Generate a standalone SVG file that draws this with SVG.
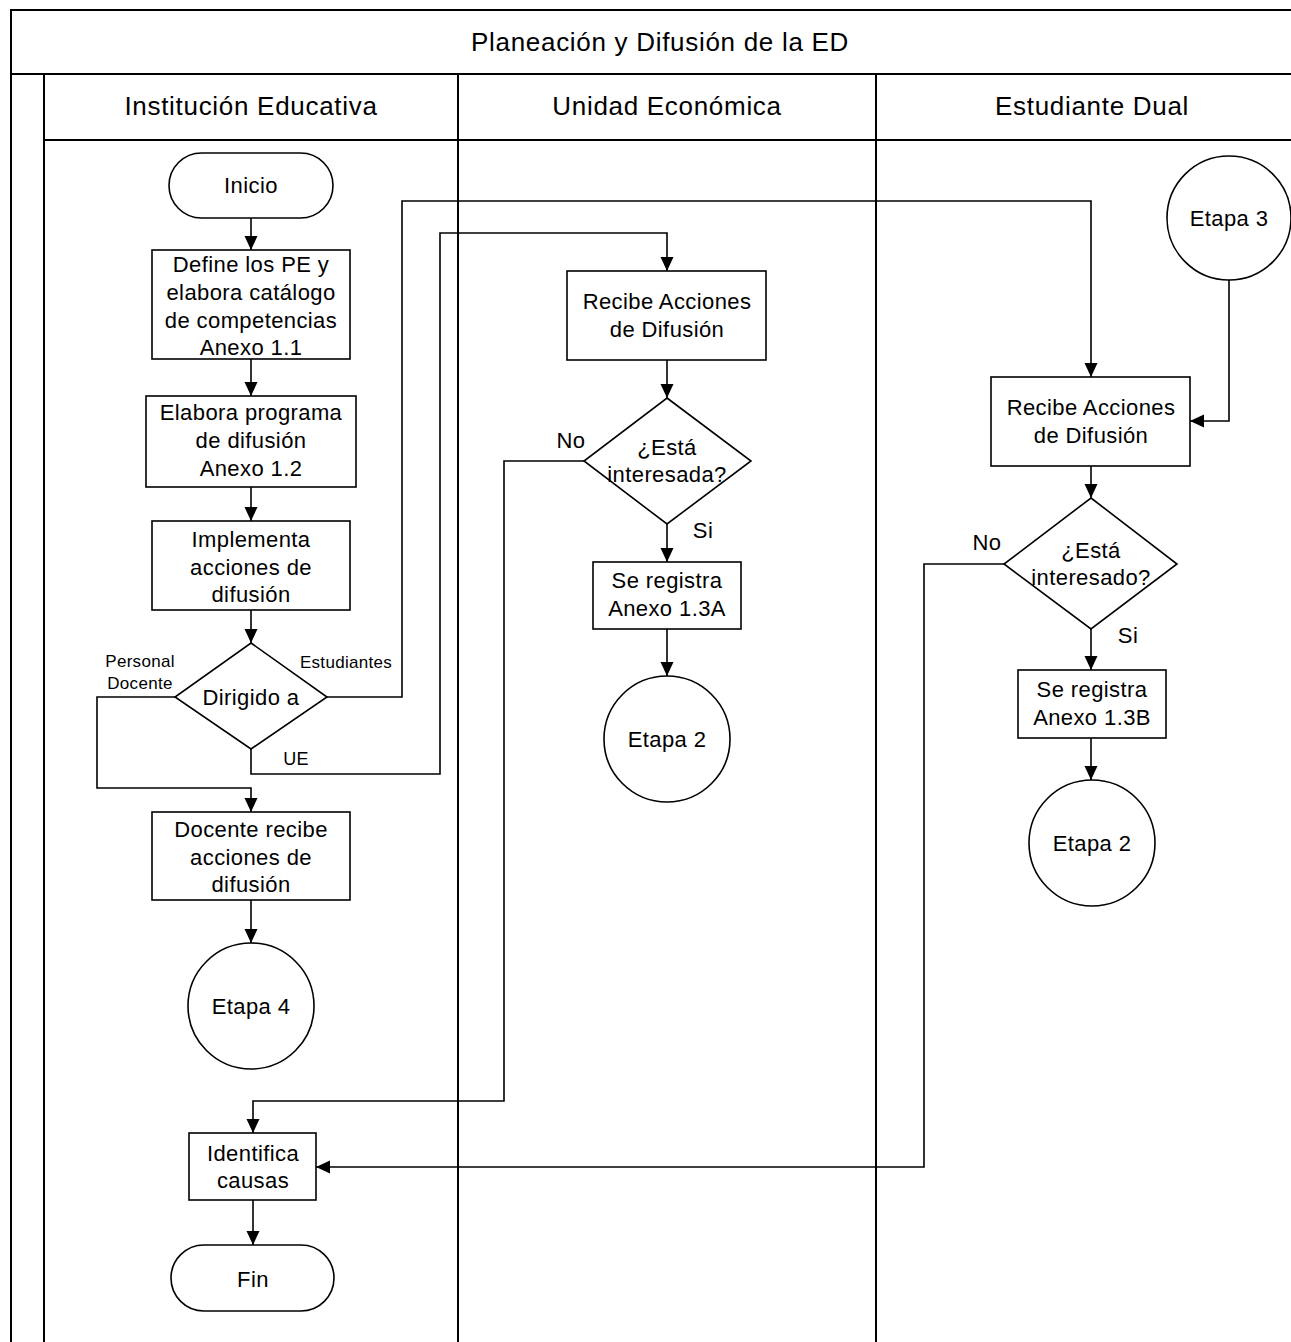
<svg xmlns="http://www.w3.org/2000/svg" width="1291" height="1342" viewBox="0 0 1291 1342">
<style>
text{font-family:"Liberation Sans",Arial,sans-serif;fill:#000;text-anchor:middle}
.t{font-size:26px;letter-spacing:0.7px}
.n{font-size:22px;letter-spacing:0.4px}
.s{font-size:17px;letter-spacing:0.3px}
.lane{fill:none;stroke:#000;stroke-width:2}
.sh{fill:#fff;stroke:#000;stroke-width:1.6}
.c{fill:none;stroke:#000;stroke-width:1.6}
</style>
<defs>
<marker id="a" markerUnits="userSpaceOnUse" markerWidth="14" markerHeight="14" viewBox="0 0 14 14" refX="14" refY="7" orient="auto">
<path d="M0,0.5 L14,7 L0,13.5 Z" fill="#000"/>
</marker>
</defs>
<rect width="1291" height="1342" fill="#fff"/>
<g id="pool">
<path class="lane" d="M11,1342 V10 H1300 M11,74 H1300 M44,140 H1300 M44,74 V1342 M458,74 V1342 M876,74 V1342"/>
<text class="t" x="660" y="51">Planeación y Difusión de la ED</text>
<text class="t" x="251" y="115">Institución Educativa</text>
<text class="t" x="667" y="115">Unidad Económica</text>
<text class="t" x="1092" y="115">Estudiante Dual</text>
</g>
<g id="connectors">
<path class="c" d="M251,218 V250" marker-end="url(#a)"/>
<path class="c" d="M251,359 V396" marker-end="url(#a)"/>
<path class="c" d="M251,487 V521" marker-end="url(#a)"/>
<path class="c" d="M251,610 V643" marker-end="url(#a)"/>
<path class="c" d="M175,697 H97 V788 H251 V812" marker-end="url(#a)"/>
<path class="c" d="M327,697 H402 V201 H1091 V377" marker-end="url(#a)"/>
<path class="c" d="M251,749 V774 H440 V233 H667 V271" marker-end="url(#a)"/>
<path class="c" d="M251,900 V943" marker-end="url(#a)"/>
<path class="c" d="M667,360 V398" marker-end="url(#a)"/>
<path class="c" d="M667,524 V562" marker-end="url(#a)"/>
<path class="c" d="M667,629 V676" marker-end="url(#a)"/>
<path class="c" d="M584,461 H504 V1101 H253 V1133" marker-end="url(#a)"/>
<path class="c" d="M1229,280 V421 H1190" marker-end="url(#a)"/>
<path class="c" d="M1091,466 V498" marker-end="url(#a)"/>
<path class="c" d="M1091,629 V670" marker-end="url(#a)"/>
<path class="c" d="M1091,738 V780" marker-end="url(#a)"/>
<path class="c" d="M1004,564 H924 V1167 H316" marker-end="url(#a)"/>
<path class="c" d="M253,1200 V1245" marker-end="url(#a)"/>
<text class="s" x="140" y="667">Personal</text>
<text class="s" x="140" y="689">Docente</text>
<text class="s" x="346" y="668">Estudiantes</text>
<text class="s" x="296" y="765" style="font-size:18px">UE</text>
<text class="n" x="571" y="448">No</text>
<text class="n" x="703" y="538">Si</text>
<text class="n" x="987" y="550">No</text>
<text class="n" x="1128" y="643">Si</text>
</g>
<g id="inicio">
<rect class="sh" x="169" y="153" width="164" height="65" rx="32.5"/>
<text class="n" x="251" y="193">Inicio</text>
</g>
<g id="define">
<rect class="sh" x="152" y="250" width="198" height="109"/>
<text class="n" x="251" y="272">Define los PE y</text>
<text class="n" x="251" y="300">elabora catálogo</text>
<text class="n" x="251" y="328">de competencias</text>
<text class="n" x="251" y="355">Anexo 1.1</text>
</g>
<g id="elabora">
<rect class="sh" x="146" y="396" width="210" height="91"/>
<text class="n" x="251" y="420">Elabora programa</text>
<text class="n" x="251" y="448">de difusión</text>
<text class="n" x="251" y="476">Anexo 1.2</text>
</g>
<g id="implementa">
<rect class="sh" x="152" y="521" width="198" height="89"/>
<text class="n" x="251" y="547">Implementa</text>
<text class="n" x="251" y="575">acciones de</text>
<text class="n" x="251" y="602">difusión</text>
</g>
<g id="dirigido">
<path class="sh" d="M251,643 L327,697 L251,749 L175,697 Z"/>
<text class="n" x="251" y="705">Dirigido a</text>
</g>
<g id="docente">
<rect class="sh" x="152" y="812" width="198" height="88"/>
<text class="n" x="251" y="837">Docente recibe</text>
<text class="n" x="251" y="865">acciones de</text>
<text class="n" x="251" y="892">difusión</text>
</g>
<g id="etapa4">
<circle class="sh" cx="251" cy="1006" r="63"/>
<text class="n" x="251" y="1014">Etapa 4</text>
</g>
<g id="identifica">
<rect class="sh" x="189" y="1133" width="127" height="67"/>
<text class="n" x="253" y="1161">Identifica</text>
<text class="n" x="253" y="1188">causas</text>
</g>
<g id="fin">
<rect class="sh" x="171" y="1245" width="163" height="66" rx="33"/>
<text class="n" x="253" y="1287">Fin</text>
</g>
<g id="recibe-ue">
<rect class="sh" x="567" y="271" width="199" height="89"/>
<text class="n" x="667" y="309">Recibe Acciones</text>
<text class="n" x="667" y="337">de Difusión</text>
</g>
<g id="interesada">
<path class="sh" d="M667,398 L751,461 L667,524 L584,461 Z"/>
<text class="n" x="667" y="455">¿Está</text>
<text class="n" x="667" y="482">interesada?</text>
</g>
<g id="registra-a">
<rect class="sh" x="593" y="562" width="148" height="67"/>
<text class="n" x="667" y="588">Se registra</text>
<text class="n" x="667" y="616">Anexo 1.3A</text>
</g>
<g id="etapa2-ue">
<circle class="sh" cx="667" cy="739" r="63"/>
<text class="n" x="667" y="747">Etapa 2</text>
</g>
<g id="etapa3">
<circle class="sh" cx="1229" cy="218" r="62"/>
<text class="n" x="1229" y="226">Etapa 3</text>
</g>
<g id="recibe-ed">
<rect class="sh" x="991" y="377" width="199" height="89"/>
<text class="n" x="1091" y="415">Recibe Acciones</text>
<text class="n" x="1091" y="443">de Difusión</text>
</g>
<g id="interesado">
<path class="sh" d="M1091,498 L1177,564 L1091,629 L1004,564 Z"/>
<text class="n" x="1091" y="558">¿Está</text>
<text class="n" x="1091" y="585">interesado?</text>
</g>
<g id="registra-b">
<rect class="sh" x="1018" y="670" width="148" height="68"/>
<text class="n" x="1092" y="697">Se registra</text>
<text class="n" x="1092" y="725">Anexo 1.3B</text>
</g>
<g id="etapa2-ed">
<circle class="sh" cx="1092" cy="843" r="63"/>
<text class="n" x="1092" y="851">Etapa 2</text>
</g>
</svg>
